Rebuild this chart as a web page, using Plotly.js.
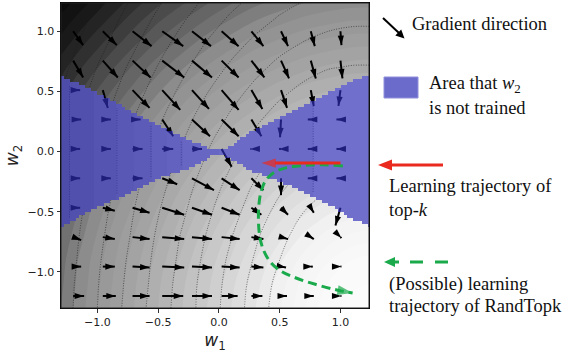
<!DOCTYPE html>
<html><head><meta charset="utf-8">
<script src="https://cdn.plot.ly/plotly-3.0.1.min.js"></script>
<style>html,body{margin:0;padding:0;background:#fff;}#chart{width:570px;height:353px;}</style>
</head><body><div id="chart"></div>
<script>
// ---------- data ----------
const gridX = [-1.3,-1.1,-0.9,-0.7,-0.5,-0.3,-0.1,0.1,0.3,0.5,0.7,0.9,1.1,1.3];
const gridY = [-1.3,-1.1,-0.9,-0.7,-0.5,-0.3,-0.1,0.1,0.3,0.5,0.7,0.9,1.1,1.3];
// dotted contour-line landscape (rows = gridY bottom to top)
const levelZ = [
 [2.50,2.30,2.10,1.90,1.70,1.51,1.31,1.11,0.91,0.71,0.52,0.33,0.16,0.16],
 [2.51,2.31,2.11,1.92,1.72,1.52,1.32,1.13,0.93,0.74,0.56,0.39,0.27,0.27],
 [2.53,2.33,2.13,1.94,1.74,1.55,1.35,1.16,0.98,0.80,0.63,0.48,0.39,0.39],
 [2.55,2.35,2.16,1.97,1.77,1.58,1.39,1.21,1.03,0.86,0.71,0.59,0.51,0.51],
 [2.58,2.38,2.19,2.00,1.81,1.63,1.44,1.27,1.10,0.94,0.80,0.70,0.64,0.64],
 [2.61,2.42,2.23,2.04,1.86,1.68,1.50,1.33,1.17,1.03,0.91,0.81,0.76,0.76],
 [2.65,2.46,2.28,2.09,1.91,1.74,1.57,1.41,1.26,1.12,1.01,0.93,0.89,0.89],
 [2.69,2.51,2.33,2.15,1.98,1.81,1.64,1.49,1.35,1.23,1.12,1.05,1.01,1.01],
 [2.74,2.56,2.39,2.21,2.04,1.88,1.72,1.58,1.45,1.33,1.24,1.17,1.14,1.14],
 [2.80,2.62,2.45,2.28,2.11,1.96,1.81,1.67,1.55,1.44,1.35,1.29,1.26,1.26],
 [2.86,2.68,2.51,2.35,2.19,2.04,1.90,1.77,1.65,1.55,1.47,1.41,1.39,1.39],
 [2.92,2.75,2.59,2.43,2.27,2.13,1.99,1.87,1.76,1.66,1.59,1.54,1.51,1.51],
 [2.99,2.82,2.66,2.51,2.36,2.22,2.09,1.97,1.87,1.78,1.71,1.66,1.64,1.64],
 [3.06,2.90,2.74,2.59,2.45,2.31,2.19,2.08,1.98,1.89,1.83,1.79,1.76,1.76]
];
// grey shading landscape (rows = gridY bottom to top)
const shadeZ = [
 [2.60,2.40,2.20,2.00,1.80,1.60,1.40,1.20,1.00,0.81,0.61,0.41,0.22,0.09],
 [2.62,2.42,2.22,2.02,1.82,1.62,1.43,1.23,1.04,0.85,0.66,0.49,0.34,0.28],
 [2.64,2.44,2.25,2.05,1.86,1.67,1.47,1.29,1.10,0.92,0.76,0.61,0.50,0.46],
 [2.68,2.49,2.29,2.10,1.91,1.73,1.54,1.36,1.19,1.03,0.88,0.76,0.68,0.65],
 [2.73,2.54,2.35,2.17,1.98,1.80,1.63,1.46,1.30,1.15,1.02,0.92,0.85,0.83],
 [2.79,2.61,2.42,2.24,2.07,1.89,1.73,1.57,1.42,1.29,1.18,1.09,1.03,1.01],
 [2.86,2.68,2.51,2.33,2.16,2.00,1.84,1.70,1.56,1.44,1.34,1.26,1.22,1.20],
 [2.95,2.77,2.60,2.43,2.27,2.12,1.97,1.83,1.71,1.60,1.51,1.44,1.40,1.38],
 [3.04,2.87,2.70,2.54,2.39,2.24,2.10,1.97,1.86,1.76,1.68,1.62,1.58,1.57],
 [3.14,2.97,2.81,2.66,2.51,2.37,2.24,2.12,2.02,1.93,1.85,1.80,1.76,1.75],
 [3.24,3.08,2.93,2.78,2.64,2.51,2.39,2.28,2.18,2.10,2.03,1.98,1.95,1.94],
 [3.36,3.20,3.06,2.92,2.78,2.66,2.54,2.44,2.34,2.27,2.20,2.16,2.13,2.12],
 [3.47,3.33,3.19,3.05,2.92,2.81,2.70,2.60,2.51,2.44,2.38,2.34,2.31,2.31],
 [3.60,3.46,3.32,3.19,3.07,2.96,2.86,2.76,2.68,2.62,2.56,2.52,2.50,2.49]
];

// gradient arrows (grid points, components as read; rows = quiverY bottom to top)
const quiverX = [-1.2,-0.956,-0.711,-0.467,-0.222,0.022,0.267,0.511,0.756,1.0];
const quiverY = [-1.2,-0.956,-0.711,-0.467,-0.222,0.022,0.267,0.511,0.756,1.0];
const gradU = [
 [11,13,17,21,20,16,11,6,3,1],
 [8,12,17,22,20,18,12,5,2,1],
 [8,12,17,22,20,18,12,7,3,1],
 [7,12,17,22,20,18,10,7,3,-5],
 [7,8,10,15,22,18,12,0,-3,-4],
 [7,8,10,11,10,10,-1,-2,-3,-4],
 [8,8,8,11,18,17,10,-1,-3,-4],
 [7,5,17,18,17,17,11,6,3,-2],
 [10,15,18,22,20,17,13,8,5,2],
 [10,14,19,21,19,17,12,7,4,1]
];
const gradV = [
 [0,0,0,0,0,0,0,0,0,0],
 [0,0,-1,-1,-1,-1,-1,-1,0,0],
 [-3,-2,-2,-2,-2,-2,-2,-2,-2,-1],
 [0,-3,-5,-7,-7,-7,-7,-7,-5,-18],
 [0,0,0,-6,-12,-12,-12,-17,0,0],
 [0,0,0,0,0,-18,0,0,0,0],
 [0,0,0,-17,-17,-17,-17,-18,0,0],
 [0,-18,-18,-20,-19,-20,-19,-18,-16,-16],
 [-17,-17,-17,-17,-17,-17,-17,-18,-18,-18],
 [-14,-14,-15,-15,-15,-15,-15,-15,-15,-14]
];

// area where w2 is not trained
const blueX      = [-1.3,-1.2,-1.035,-0.842,-0.677,-0.513,-0.376,-0.252,-0.129,-0.04,0.0,0.04,0.118,0.255,0.39,0.53,0.667,0.804,0.941,1.078,1.175,1.25];
const blueTop    = [0.624,0.582,0.5,0.403,0.318,0.235,0.166,0.097,0.05,0.02,0.015,0.02,0.065,0.168,0.235,0.305,0.373,0.44,0.511,0.575,0.616,0.624];
const blueBottom = [-0.624,-0.57,-0.48,-0.39,-0.315,-0.225,-0.175,-0.135,-0.08,-0.02,-0.015,-0.025,-0.07,-0.15,-0.21,-0.26,-0.315,-0.39,-0.46,-0.55,-0.59,-0.625];
// shading bands seen through the blue area (edges in w1, shade level per band)
const bandEdges  = [-1.3,-1.23,-1.03,-0.84,-0.70,-0.56,-0.43,-0.31,0.0,0.776,1.25];
const bandLevels = [2.66,2.58,2.5,2.4,2.26,2.08,1.92,1.75,1.61,1.40];
const vLineX     = [-1.23,-0.84,-0.56,-0.31,0.776];

// trajectories
const topkX = [1.0, 0.35];
const topkY = [-0.095, -0.095];
const randX = [1.02,0.85,0.7,0.55,0.45,0.385,0.35,0.33,0.325,0.335,0.36,0.41,0.49,0.62,0.8,0.97,1.1];
const randY = [-0.12,-0.11,-0.115,-0.135,-0.175,-0.24,-0.32,-0.43,-0.57,-0.7,-0.8,-0.9,-0.98,-1.045,-1.105,-1.15,-1.175];

const tickVals = [-1,-0.5,0,0.5,1];
const tickText = ['\u22121.0','\u22120.5','0.0','0.5','1.0'];

// ---------- drawing ----------
const RANGE = [-1.3, 1.235];
const ZMAX = 3.7;
const shadeStops = [[0,252],[0.4,250],[0.8,242],[1.2,216],[1.6,190],[2.0,166],[2.2,156],[2.45,142],[2.6,122],[2.8,98],[3.0,72],[3.2,46],[3.4,24],[3.7,5]];
const grayScale = shadeStops.map(s=>[s[0]/ZMAX, `rgb(${s[1]},${s[1]},${s[1]})`]);

function interp(xs, ys, x){
  if (x <= xs[0]) return ys[0];
  for (let i=1;i<xs.length;i++){
    if (x <= xs[i]){ const t=(x-xs[i-1])/(xs[i]-xs[i-1]); return ys[i-1]+t*(ys[i]-ys[i-1]); }
  }
  return ys[ys.length-1];
}
function bandLevel(x){
  for (let k=0;k<bandLevels.length;k++){ if (x < bandEdges[k+1]) return bandLevels[k]; }
  return bandLevels[bandLevels.length-1];
}

// raster of the blue area
const CELL = 0.025, N = 102;
const cx = [], cy = [];
for (let i=0;i<N;i++){ cx.push(-1.3 + (i+0.5)*CELL); cy.push(-1.3 + (i+0.5)*CELL); }
const hZ = [], maskZ = [];
for (let j=0;j<N;j++){
  const rowH=[], rowM=[];
  for (let i=0;i<N;i++){
    const x=cx[i], y=cy[j];
    const inside = y < interp(blueX,blueTop,x) && y > interp(blueX,blueBottom,x);
    rowH.push(inside ? bandLevel(x) : null);
    rowM.push(inside ? 1 : null);
  }
  hZ.push(rowH); maskZ.push(rowM);
}

// vertical dotted lines inside blue
const vlx=[], vly=[];
vLineX.forEach(x=>{
  vlx.push(x,x,null);
  vly.push(interp(blueX,blueBottom,x)+0.04, interp(blueX,blueTop,x)-0.04, null);
});

// quiver
const SCALE = 1/121.5;
const shx=[], shy=[], hx=[], hy=[], ha=[];
for (let r=0;r<quiverY.length;r++){
  for (let c=0;c<quiverX.length;c++){
    const u=gradU[r][c], v=gradV[r][c];
    const x0=quiverX[c], y0=quiverY[r];
    const x1=x0+u*SCALE, y1=y0+v*SCALE;
    shx.push(x0,x1,null); shy.push(y0,y1,null);
    hx.push(x1); hy.push(y1); ha.push(Math.atan2(u,v)*180/Math.PI);
  }
}

const traces = [
  {type:'contour', x:gridX, y:gridY, z:shadeZ, xaxis:'x', yaxis:'y',
   zauto:false, zmin:0, zmax:ZMAX, colorscale:grayScale, showscale:false, hoverinfo:'skip',
   contours:{coloring:'fill', start:0.1, end:3.6, size:0.1, showlines:false},
   line:{width:0, smoothing:1}},
  {type:'contour', x:gridX, y:gridY, z:levelZ, xaxis:'x', yaxis:'y', showscale:false, hoverinfo:'skip',
   contours:{coloring:'none', start:0.8, end:3.0, size:0.2},
   line:{color:'rgba(25,25,25,0.75)', width:0.8, dash:'1px,1.5px', smoothing:1}},
  {type:'heatmap', x:cx, y:cy, z:hZ, xaxis:'x2', yaxis:'y2', zauto:false, zmin:0, zmax:ZMAX,
   colorscale:grayScale, showscale:false, hoverinfo:'skip', zsmooth:false},
  {type:'scatter', mode:'lines', x:vlx, y:vly, xaxis:'x2', yaxis:'y2', hoverinfo:'skip',
   line:{color:'rgba(25,25,25,0.75)', width:0.8, dash:'1px,1.5px'}},
  {type:'scatter', mode:'lines', x:shx, y:shy, xaxis:'x2', yaxis:'y2', hoverinfo:'skip',
   line:{color:'#000', width:2}},
  {type:'scatter', mode:'markers', x:hx, y:hy, xaxis:'x2', yaxis:'y2', hoverinfo:'skip',
   marker:{symbol:'arrow', size:10, angle:ha, color:'#000', line:{width:0}}},
  {type:'heatmap', x:cx, y:cy, z:maskZ, xaxis:'x3', yaxis:'y3', showscale:false, hoverinfo:'skip',
   zsmooth:false, opacity:0.6, colorscale:[[0,'rgb(52,52,205)'],[1,'rgb(52,52,205)']]},
  {type:'scatter', mode:'lines+markers', x:randX, y:randY, xaxis:'x3', yaxis:'y3', hoverinfo:'skip',
   line:{color:'#1aaa4b', width:3, dash:'9px,5px', shape:'spline'},
   marker:{symbol:'arrow', angleref:'previous', color:'#1aaa4b', line:{width:0},
           size:randX.map((_,i)=> i===randX.length-1 ? 16 : 0)}},
  {type:'scatter', mode:'lines+markers', x:topkX, y:topkY, xaxis:'x3', yaxis:'y3', hoverinfo:'skip',
   line:{color:'#ea2a1f', width:3},
   marker:{symbol:'arrow', angleref:'previous', color:'#ea2a1f', line:{width:0}, size:[0,15]}}
];

const px2x = p => (p-61)/308;
const px2y = p => (308-p)/305;
const serif = {family:'Liberation Serif, Times New Roman, serif', size:18.5, color:'#111'};
const label = (t, px, py) => ({text:t, xref:'paper', yref:'paper', x:px2x(px), y:px2y(py),
  xanchor:'left', yanchor:'middle', showarrow:false, font:serif});
const tri = (pts, color) => ({type:'path', xref:'paper', yref:'paper', fillcolor:color, line:{width:0},
  path:'M' + pts.map(p=>px2x(p[0])+','+px2y(p[1])).join(' L') + ' Z'});
const seg = (x0,y0,x1,y1,color,w,dash) => ({type:'line', xref:'paper', yref:'paper',
  x0:px2x(x0), y0:px2y(y0), x1:px2x(x1), y1:px2y(y1), line:{color:color, width:w, dash:dash||'solid'}});

const hidden = {range:RANGE, visible:false, fixedrange:true};
const axisBase = {range:RANGE, tickvals:tickVals, ticktext:tickText, ticks:'outside', ticklen:3.5, tickwidth:0.8,
    tickcolor:'#000', showline:true, mirror:true, linecolor:'#000', linewidth:1, showgrid:false, zeroline:false,
    tickfont:{family:'DejaVu Sans', size:11, color:'#222'}};
const layout = {
  width:570, height:353, margin:{l:61, r:201, t:3, b:45},
  paper_bgcolor:'#fff', plot_bgcolor:'#fff', showlegend:false,
  xaxis:Object.assign({title:{text:'<i>w</i><sub>1</sub>', font:{family:'DejaVu Sans', size:17, color:'#222'}, standoff:6}}, axisBase),
  yaxis:Object.assign({title:{text:'<i>w</i><sub>2</sub>', font:{family:'DejaVu Sans', size:17, color:'#222'}, standoff:4}}, axisBase),
  xaxis2:Object.assign({overlaying:'x', anchor:'y2'}, hidden),
  yaxis2:Object.assign({overlaying:'y', anchor:'x2'}, hidden),
  xaxis3:Object.assign({overlaying:'x', anchor:'y3'}, hidden),
  yaxis3:Object.assign({overlaying:'y', anchor:'x3'}, hidden),
  shapes:[
    {type:'rect', xref:'paper', yref:'paper', x0:0, x1:1, y0:0, y1:1, line:{color:'#222', width:1}, layer:'above'},
    // legend: gradient arrow
    seg(383,18,399,33,'#000',2),
    tri([[404.5,38.5],[395.3,35.6],[401.2,29.4]], '#000'),
    // legend: blue patch
    {type:'rect', xref:'paper', yref:'paper', x0:px2x(384), x1:px2x(418), y0:px2y(98), y1:px2y(77),
     fillcolor:'#6b6bcc', line:{color:'#9090dc', width:1}},
    // legend: top-k arrow
    seg(391,165,443,165,'#ea2a1f',3),
    tri([[378,165],[392,159.5],[392,170.5]], '#ea2a1f'),
    // legend: RandTopk dashed arrow
    seg(393,262,399,262,'#1aaa4b',3),
    tri([[384,262],[395,257],[395,267]], '#1aaa4b'),
    seg(410,262,448,262,'#1aaa4b',3,'13px,12px')
  ],
  annotations:[
    label('Gradient direction', 410, 24),
    label('Area that <i>w</i><sub>2</sub>', 427, 84),
    label('is not trained', 427, 108),
    label('Learning trajectory of', 387, 186),
    label('top-<i>k</i>', 387, 210),
    label('(Possible) learning', 387, 284),
    label('trajectory of RandTopk', 387, 306)
  ]
};

Plotly.newPlot('chart', traces, layout, {staticPlot:true, displayModeBar:false});
</script>
</body></html>
